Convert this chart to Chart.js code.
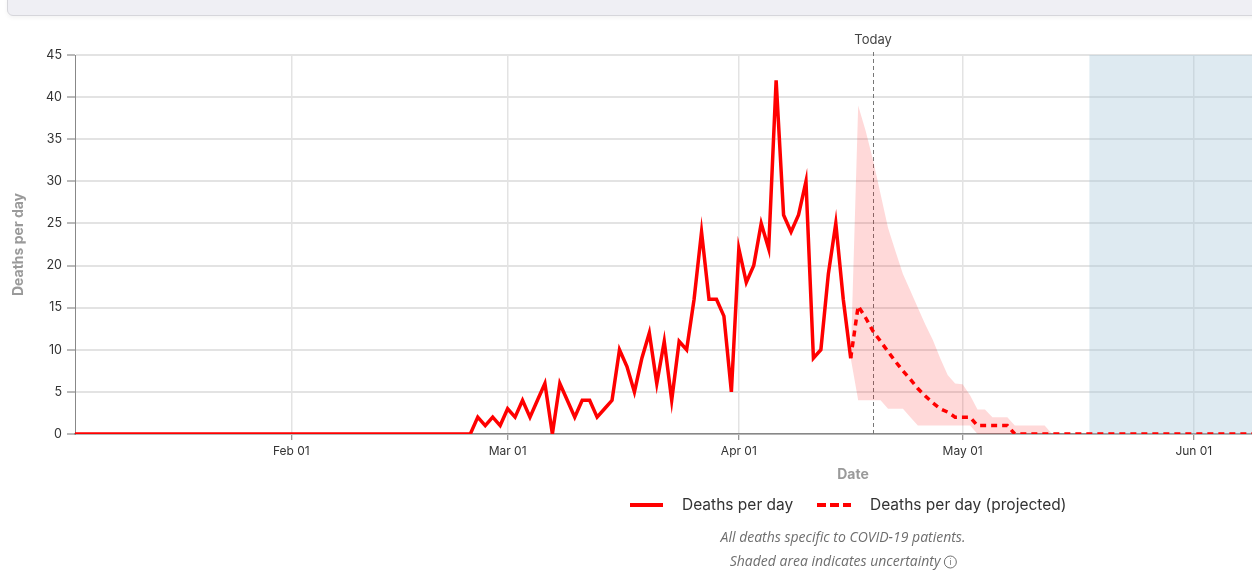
<!DOCTYPE html>
<html>
<head>
    <title>Deaths per day</title>
    <script src="https://cdn.jsdelivr.net/npm/chart.js"></script>
    <style>
        body { margin: 0; background: #fff; overflow: hidden; }
        #wrap { position: relative; width: 1252px; height: 571px; }
        #topbar {
            position: absolute; left: 7px; top: -6px; width: 1300px; height: 20px;
            background: #efeff4; border: 1px solid #d6d6db; border-radius: 6px;
            box-shadow: 0 2px 4px rgba(0,0,0,0.05);
        }
    </style>
</head>
<body>
    <div id="wrap">
        <div id="topbar"></div>
        <canvas id="myChart"></canvas>
    </div>
    <script>
        // x axis window and markers
        const firstDay = '2020-01-03';
        const lastDay = 159.8; // day number at right edge of the plot
        const todayDate = '2020-04-19';
        const shadedFrom = '2020-05-18';
        const tickDates = ['2020-02-01', '2020-03-01', '2020-04-01', '2020-05-01', '2020-06-01'];
        const tickLabels = ['Feb 01', 'Mar 01', 'Apr 01', 'May 01', 'Jun 01'];

        // reported deaths per day, one value per day from actualStart
        const actualStart = '2020-02-25';
        const actualDeaths = [0, 2, 1, 2, 1,
            3, 2, 4, 2, 4, 6, 0, 6, 4, 2, 4, 4, 2, 3, 4, 10, 8, 5, 9, 12, 6, 11, 4, 11, 10, 16, 24, 16, 16, 14, 5,
            22, 18, 20, 25, 22, 42, 26, 24, 26, 30, 9, 10, 19, 25, 16, 9];

        // projection, one value per day from projStart
        const projStart = '2020-04-16';
        const projDeaths = [9, 15.2, 13.8, 12.2, 11, 9.8, 8.6, 7.5, 6.5, 5.4, 4.5, 3.7, 3.0, 2.6, 2, 2, 2,
            1, 1, 1, 1, 1, 0];
        const projEnd = '2020-06-09';
        const bandUpper = [9, 39, 36, 32.5, 28.5, 24.5, 21.7, 19, 17, 15, 13, 11.2, 9, 7, 6, 5.9, 4.6,
            2.9, 2.9, 2, 2, 2, 1, 1, 1, 1, 1, 0];
        const bandLower = [9, 4, 4, 4, 4, 3, 3, 3, 2, 1, 1, 1, 1, 1, 1, 1, 1,
            0, 0, 0, 0, 0, 0, 0, 0, 0, 0, 0];

        const dayNum = s => (Date.parse(s) - Date.parse('2020-01-01')) / 864e5;
        const daily = (start, arr) => arr.map((v, i) => ({ x: dayNum(start) + i, y: v }));

        const actualPoints = [{ x: dayNum(firstDay), y: 0 }].concat(daily(actualStart, actualDeaths));
        const projPoints = daily(projStart, projDeaths).concat([{ x: dayNum(projEnd), y: 0 }]);

        const RED = '#ff0000';

        const extras = {
            id: 'extras',
            beforeDatasetsDraw(chart) {
                const { ctx, chartArea: a, scales: { x } } = chart;
                ctx.save();
                const sx = x.getPixelForValue(dayNum(shadedFrom));
                ctx.fillStyle = 'rgba(160,195,215,0.35)';
                ctx.fillRect(sx, a.top, a.right - sx, a.bottom - a.top);
                const tx = Math.round(x.getPixelForValue(dayNum(todayDate))) + 0.5;
                ctx.strokeStyle = '#777';
                ctx.lineWidth = 1;
                ctx.setLineDash([4, 3]);
                ctx.beginPath();
                ctx.moveTo(tx, a.top - 3);
                ctx.lineTo(tx, a.bottom);
                ctx.stroke();
                ctx.restore();
            },
            afterDraw(chart) {
                const { ctx, scales: { x } } = chart;
                ctx.save();
                ctx.textBaseline = 'middle';
                ctx.textAlign = 'center';
                ctx.fillStyle = '#444';
                ctx.font = '13px Inter';
                ctx.fillText('Today', x.getPixelForValue(dayNum(todayDate)), 40);

                ctx.fillStyle = '#9a9a9a';
                ctx.font = 'bold 14px Inter';
                ctx.fillText('Date', 853, 475);

                // legend
                ctx.lineWidth = 4;
                ctx.strokeStyle = RED;
                ctx.beginPath();
                ctx.moveTo(630, 505); ctx.lineTo(663, 505);
                ctx.stroke();
                ctx.setLineDash([9, 4]);
                ctx.beginPath();
                ctx.moveTo(817, 505); ctx.lineTo(851, 505);
                ctx.stroke();
                ctx.setLineDash([]);
                ctx.textAlign = 'left';
                ctx.fillStyle = '#333';
                ctx.font = '15.5px Inter';
                ctx.fillText('Deaths per day', 682, 505);
                ctx.fillText('Deaths per day (projected)', 870, 505);

                // notes
                ctx.fillStyle = '#6e6e6e';
                ctx.font = 'italic 14px "Open Sans"';
                ctx.textAlign = 'center';
                ctx.fillText('All deaths specific to COVID-19 patients.', 843, 538);
                const note = 'Shaded area indicates uncertainty';
                const w = ctx.measureText(note).width;
                const left = 844 - (w + 18) / 2;
                ctx.textAlign = 'left';
                ctx.fillText(note, left, 562);
                const cx = left + w + 10;
                ctx.lineWidth = 1;
                ctx.strokeStyle = '#6e6e6e';
                ctx.beginPath();
                ctx.arc(cx, 562, 6, 0, Math.PI * 2);
                ctx.stroke();
                ctx.font = '9px "Open Sans"';
                ctx.textAlign = 'center';
                ctx.fillText('i', cx, 562.5);
                ctx.restore();
            }
        };

        const ctx = document.getElementById('myChart').getContext('2d');
        const myChart = new Chart(ctx, {
            type: 'line',
            data: {
                datasets: [{
                    label: 'Deaths per day',
                    data: actualPoints,
                    borderColor: RED,
                    borderWidth: 3.5,
                    pointRadius: 0,
                    fill: false,
                    order: 1
                }, {
                    label: 'Deaths per day (projected)',
                    data: projPoints,
                    borderColor: RED,
                    borderWidth: 3.5,
                    borderDash: [6, 5],
                    pointRadius: 0,
                    fill: false,
                    order: 1
                }, {
                    label: 'lower',
                    data: daily(projStart, bandLower),
                    borderWidth: 0,
                    pointRadius: 0,
                    fill: false,
                    order: 3
                }, {
                    label: 'upper',
                    data: daily(projStart, bandUpper),
                    borderWidth: 0,
                    pointRadius: 0,
                    backgroundColor: 'rgba(255,0,0,0.15)',
                    fill: '-1',
                    order: 3
                }]
            },
            options: {
                responsive: true,
                maintainAspectRatio: false,
                animation: false,
                layout: { padding: { top: 55, right: 0, bottom: 0, left: 0 } },
                plugins: {
                    legend: { display: false },
                    tooltip: { enabled: false }
                },
                scales: {
                    x: {
                        type: 'linear',
                        min: dayNum(firstDay),
                        max: lastDay,
                        afterBuildTicks(scale) {
                            scale.ticks = tickDates.map(d => ({ value: dayNum(d) }));
                        },
                        afterFit(scale) { scale.height = 137; },
                        ticks: {
                            autoSkip: false,
                            maxRotation: 0,
                            padding: 4,
                            color: '#333',
                            font: { family: 'Inter', size: 12 },
                            callback: (v, i) => tickLabels[i]
                        },
                        grid: { color: '#e3e3e3', lineWidth: 1.5, tickLength: 6, tickColor: '#777', tickWidth: 1 },
                        border: { color: '#888', width: 1.5 }
                    },
                    y: {
                        min: 0,
                        max: 45,
                        afterFit(scale) { scale.width = 75; },
                        ticks: {
                            stepSize: 5,
                            padding: 5,
                            color: '#333',
                            font: { family: 'Inter', size: 12.5 }
                        },
                        grid: { color: '#e3e3e3', lineWidth: 2, tickLength: 8, tickColor: '#777', tickWidth: 1 },
                        border: { color: '#888', width: 1 },
                        title: {
                            display: true,
                            text: 'Deaths per day',
                            color: '#9a9a9a',
                            font: { family: 'Inter', size: 14, weight: 'bold' },
                            padding: { top: 10, bottom: 4 }
                        }
                    }
                }
            },
            plugins: [extras]
        });
    </script>
</body>
</html>
